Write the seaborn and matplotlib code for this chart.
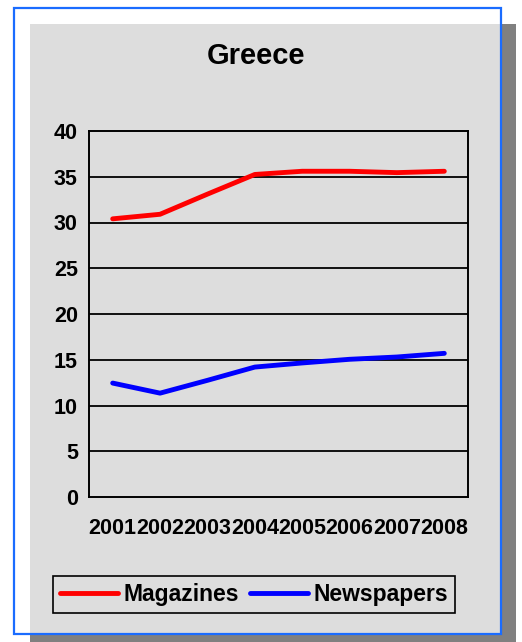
import matplotlib
matplotlib.use("Agg")
import matplotlib.pyplot as plt
import seaborn as sns
import pandas as pd
from matplotlib.patches import Rectangle

# --- data -------------------------------------------------------------
years = ["2001", "2002", "2003", "2004", "2005", "2006", "2007", "2008"]
magazines = [30.4, 30.9, 33.1, 35.25, 35.6, 35.6, 35.45, 35.6]
newspapers = [12.45, 11.35, 12.75, 14.2, 14.65, 15.05, 15.3, 15.7]
series_names = ["Magazines", "Newspapers"]
series_colors = ["#ff0000", "#0000ff"]
y_ticks = [0, 5, 10, 15, 20, 25, 30, 35, 40]
title = "Greece"

df = pd.DataFrame({
    "year": years * 2,
    "value": magazines + newspapers,
    "series": [series_names[0]] * len(years) + [series_names[1]] * len(years),
})

sns.set_theme(style="white")
plt.rcParams["font.family"] = ["Liberation Sans", "DejaVu Sans"]
plt.rcParams["font.weight"] = "bold"
plt.rcParams["text.color"] = "black"
plt.rcParams["xtick.color"] = "black"
plt.rcParams["ytick.color"] = "black"
plt.rcParams["xtick.labelcolor"] = "black"
plt.rcParams["ytick.labelcolor"] = "black"

W, H = 522, 642
fig = plt.figure(figsize=(W / 100, H / 100), dpi=100)
fig.patch.set_facecolor("white")


def px_rect(x0, y0, x1, y1, **kw):
    """Rectangle given in pixel coords measured from the top-left corner."""
    return Rectangle((x0 / W, 1 - y1 / H), (x1 - x0) / W, (y1 - y0) / H,
                     transform=fig.transFigure, **kw)


# shadow, grey panel and blue frame
fig.patches.append(px_rect(30, 24, 516, 645, facecolor="#808080", edgecolor="none", zorder=0))
fig.patches.append(px_rect(30, 24, 501, 634, facecolor="#dddddd", edgecolor="none", zorder=1))
fig.patches.append(px_rect(14, 8, 501, 634, facecolor="none", edgecolor="#1a6cff", linewidth=1.6, zorder=2))

# plot area
ax = fig.add_axes([89 / W, 1 - 497 / H, (468 - 89) / W, (497 - 131) / H])
ax.set_facecolor("#dddddd")
ax.set_zorder(3)

sns.lineplot(data=df, x="year", y="value", hue="series", palette=series_colors,
             hue_order=series_names, linewidth=3.5, ax=ax, legend=False,
             solid_capstyle="round", solid_joinstyle="round", zorder=5)

ax.set_xlim(-0.5, len(years) - 0.5)
ax.set_ylim(0, 40)
ax.set_yticks(y_ticks)
ax.set_yticklabels([str(t) for t in y_ticks], fontsize=15.5, fontweight="bold", color="black")
ax.set_xticks(range(len(years)))
ax.set_xticklabels(years, fontsize=15.5, fontweight="bold", color="black")
ax.set_xticks([i - 0.5 for i in range(len(years) + 1)], minor=True)
ax.tick_params(axis="x", which="major", length=0, pad=15)
ax.tick_params(axis="x", which="minor", length=5, width=1.3, color="black", direction="out")
ax.tick_params(axis="y", which="major", length=5, width=1.3, color="black", direction="out", pad=3)
ax.set_xlabel("")
ax.set_ylabel("")

for t in y_ticks[1:-1]:
    ax.axhline(t, color="black", linewidth=1.3, zorder=2)
for side in ["left", "right", "bottom", "top"]:
    ax.spines[side].set_visible(True)
    ax.spines[side].set_color("black")
    ax.spines[side].set_linewidth(1.4)

fig.text(256 / W, 1 - 56 / H, title, ha="center", va="center",
         fontsize=21, fontweight="bold", color="black")

# legend
handles = [plt.Line2D([], [], color=c, linewidth=3.5, solid_capstyle="round") for c in series_colors]
leg = fig.legend(handles, series_names, loc="center", ncol=2,
                 bbox_to_anchor=(254 / W, 1 - 594.5 / H),
                 prop={"weight": "bold", "size": 16.5},
                 frameon=True, fancybox=False, framealpha=1,
                 facecolor="#dddddd", edgecolor="black",
                 handlelength=2.55, handletextpad=0.25, columnspacing=0.45,
                 borderpad=0.3, borderaxespad=0)
leg.get_frame().set_linewidth(1.2)
leg.set_zorder(4)
for txt in leg.get_texts():
    txt.set_color("black")

fig.savefig("out.png", dpi=100, facecolor=fig.get_facecolor())
